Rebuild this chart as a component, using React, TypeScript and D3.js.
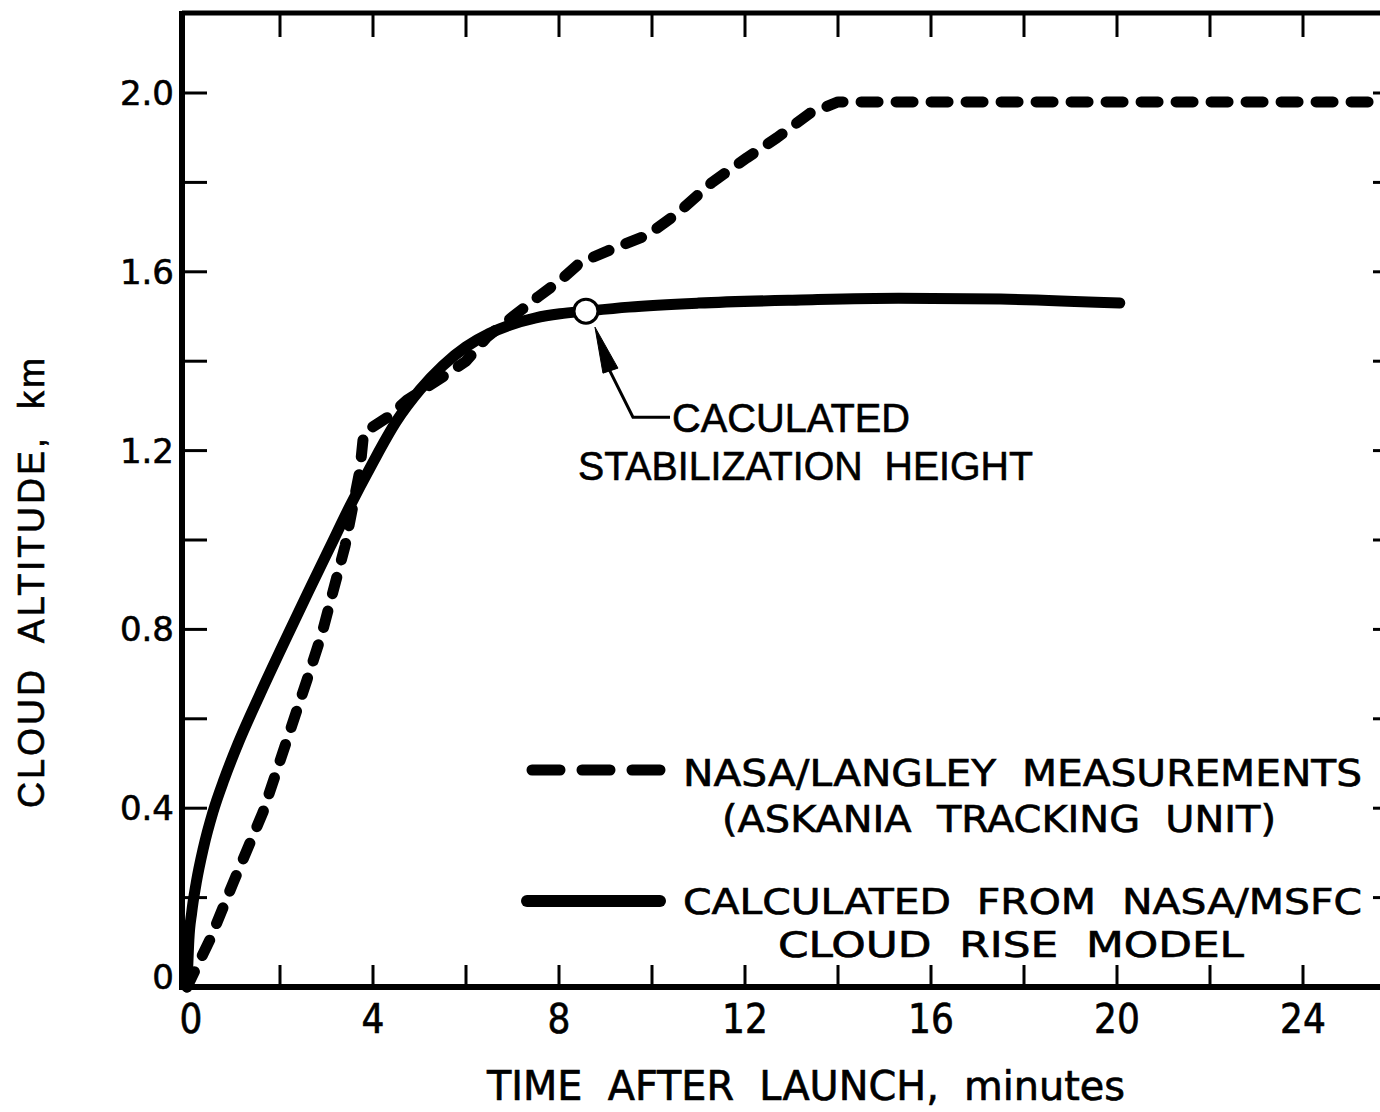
import React from "react";
import * as d3 from "d3";

// ---- data ----
const solidTime = [0, 0.04, 0.1, 0.2, 0.35, 0.56, 0.8, 1.1, 1.57, 2.2, 2.6, 3.075, 3.5, 3.98, 4.5, 5.01, 5.5, 6.0, 6.5, 6.95, 7.5, 8.02, 8.58, 9.5, 11.0, 13.2, 15.3, 17.5, 20.06];
const solidAlt = [0, 0.105, 0.166, 0.234, 0.31, 0.392, 0.465, 0.545, 0.655, 0.795, 0.882, 0.984, 1.075, 1.17, 1.265, 1.336, 1.39, 1.432, 1.462, 1.481, 1.497, 1.506, 1.512, 1.521, 1.53, 1.537, 1.541, 1.539, 1.53];

const dashTime = [0, 0.49, 1.0, 1.63, 2.58, 2.9, 3.4, 3.72, 3.8, 4.32, 4.73, 5.5, 6.0, 6.45, 7.0, 7.55, 8.02, 8.45, 9.1, 9.9, 10.54, 11.29, 12.04, 12.69, 13.4, 14.0, 26];
const dashAlt = [0, 0.105, 0.235, 0.39, 0.687, 0.79, 0.987, 1.157, 1.24, 1.275, 1.313, 1.365, 1.4, 1.454, 1.499, 1.544, 1.58, 1.62, 1.649, 1.682, 1.73, 1.8, 1.855, 1.9, 1.955, 1.98, 1.98];

const stabTime = 8.58;
const stabAlt = 1.512;

const xTickLabels = [0, 4, 8, 12, 16, 20, 24];
const xMinorTicks = [2, 4, 6, 8, 10, 12, 14, 16, 18, 20, 22, 24, 26];
const yTickLabels = ["0", "0.4", "0.8", "1.2", "1.6", "2.0"];
const yTicks = [0.2, 0.4, 0.6, 0.8, 1.0, 1.2, 1.4, 1.6, 1.8, 2.0];

const W = 1380;
const H = 1112;

export default function App() {
  const x = d3.scaleLinear().domain([0, 24]).range([187, 1303]);
  const y = d3.scaleLinear().domain([0, 2]).range([987, 93]);

  const solidPts: [number, number][] = solidTime.map((t, i) => [t, solidAlt[i]]);
  const dashPts: [number, number][] = dashTime.map((t, i) => [t, dashAlt[i]]);

  const smooth = d3
    .line<[number, number]>()
    .x((d) => x(d[0]))
    .y((d) => y(d[1]))
    .curve(d3.curveMonotoneX);
  const lin = d3
    .line<[number, number]>()
    .x((d) => x(d[0]))
    .y((d) => y(d[1]))
    .curve(d3.curveLinear);

  const left = 182;
  const top = 13;
  const bottom = 987;
  const right = 1398;

  const cond = "'DejaVu Sans Condensed', 'DejaVu Sans', sans-serif";
  const sans = "'Liberation Sans', Arial, sans-serif";
  const ink = { stroke: "#000", strokeWidth: 0.6 };

  const cx = x(stabTime);
  const cy = y(stabAlt);

  return (
    <svg
      width={W}
      height={H}
      viewBox={`0 0 ${W} ${H}`}
      style={{ position: "absolute", left: 0, top: 0, display: "block", background: "#fff" }}
    >
      <rect x={0} y={0} width={W} height={H} fill="#fff" />

      {/* frame */}
      <line x1={left} y1={top} x2={right} y2={top} stroke="#000" strokeWidth={5} />
      <line x1={left} y1={top - 2} x2={left} y2={bottom + 3} stroke="#000" strokeWidth={6} />
      <line x1={left - 3} y1={bottom} x2={right} y2={bottom} stroke="#000" strokeWidth={6} />
      <line x1={right} y1={top} x2={right} y2={bottom} stroke="#000" strokeWidth={6} />

      {/* x ticks */}
      {xMinorTicks.map((t) => (
        <g key={"xt" + t}>
          <line x1={x(t)} y1={bottom} x2={x(t)} y2={bottom - 22} stroke="#000" strokeWidth={3} />
          <line x1={x(t)} y1={top} x2={x(t)} y2={top + 24} stroke="#000" strokeWidth={3} />
        </g>
      ))}
      {/* y ticks */}
      {yTicks.map((v) => (
        <g key={"yt" + v}>
          <line x1={left} y1={y(v)} x2={left + 25} y2={y(v)} stroke="#000" strokeWidth={3} />
          <line x1={right} y1={y(v)} x2={right - 25} y2={y(v)} stroke="#000" strokeWidth={3} />
        </g>
      ))}

      {/* x tick labels */}
      {xTickLabels.map((t) => (
        <text
          key={"xl" + t}
          x={x(t) + (t === 0 ? 4 : 0)}
          y={1033}
          textAnchor="middle"
          fontFamily={cond}
          fontSize={40}
          fill="#000"
          {...ink}
        >
          {t}
        </text>
      ))}
      {/* y tick labels */}
      {yTickLabels.map((s) => {
        const v = parseFloat(s);
        const yy = v === 0 ? 977 : y(v);
        return (
          <text
            key={"yl" + s}
            x={174}
            y={yy + 12}
            textAnchor="end"
            fontFamily="'DejaVu Sans', sans-serif"
            fontSize={34}
            fill="#000"
            {...ink}
          >
            {s}
          </text>
        );
      })}

      {/* axis titles */}
      <text
        x={487}
        y={1100}
        fontFamily={cond}
        fontSize={40}
        textLength={638}
        lengthAdjust="spacingAndGlyphs"
        style={{ whiteSpace: "pre" }}
        fill="#000"
        {...ink}
      >
        {"TIME  AFTER  LAUNCH,  minutes"}
      </text>
      <text
        transform="translate(44,808) rotate(-90)"
        x={0}
        y={0}
        fontFamily={sans}
        fontSize={36}
        textLength={450}
        lengthAdjust="spacing"
        style={{ whiteSpace: "pre" }}
        fill="#000"
        {...ink}
      >
        {"CLOUD  ALTITUDE,  km"}
      </text>

      {/* curves */}
      <path
        d={lin(dashPts) || ""}
        fill="none"
        stroke="#000"
        strokeWidth={11}
        strokeDasharray="17 18"
        strokeLinecap="round"
        strokeLinejoin="round"
      />
      <path
        d={smooth(solidPts) || ""}
        fill="none"
        stroke="#000"
        strokeWidth={11}
        strokeLinecap="round"
        strokeLinejoin="round"
      />

      {/* stabilization marker */}
      <circle cx={cx} cy={cy} r={12} fill="#fff" stroke="#000" strokeWidth={3} />
      <path
        d={`M ${cx + 9} ${cy + 16} L ${cx + 17} ${cy + 62} L ${cx + 32} ${cy + 57} Z`}
        fill="#000"
        stroke="#000"
        strokeWidth={1}
        strokeLinejoin="round"
      />
      <polyline
        points={`${cx + 23} ${cy + 58} ${cx + 47} ${cy + 106} ${cx + 84} ${cy + 106}`}
        fill="none"
        stroke="#000"
        strokeWidth={3}
      />
      <text
        x={672}
        y={432}
        fontFamily={sans}
        fontSize={40}
        textLength={238}
        lengthAdjust="spacingAndGlyphs"
        fill="#000"
        {...ink}
      >
        CACULATED
      </text>
      <text
        x={578}
        y={480}
        fontFamily={sans}
        fontSize={40}
        textLength={455}
        lengthAdjust="spacingAndGlyphs"
        style={{ whiteSpace: "pre" }}
        fill="#000"
        {...ink}
      >
        {"STABILIZATION  HEIGHT"}
      </text>

      {/* legend */}
      <line x1={532} y1={770} x2={660} y2={770} stroke="#000" strokeWidth={11} strokeDasharray="28 22" strokeLinecap="round" />
      <line x1={527} y1={901} x2={660} y2={901} stroke="#000" strokeWidth={12} strokeLinecap="round" />
      <text x={683} y={786} fontFamily={cond} fontSize={37} textLength={679} lengthAdjust="spacingAndGlyphs" style={{ whiteSpace: "pre" }} fill="#000" {...ink}>
        {"NASA/LANGLEY  MEASUREMENTS"}
      </text>
      <text x={722} y={832} fontFamily={cond} fontSize={37} textLength={554} lengthAdjust="spacingAndGlyphs" style={{ whiteSpace: "pre" }} fill="#000" {...ink}>
        {"(ASKANIA  TRACKING  UNIT)"}
      </text>
      <text x={683} y={914} fontFamily={cond} fontSize={36} textLength={679} lengthAdjust="spacingAndGlyphs" style={{ whiteSpace: "pre" }} fill="#000" {...ink}>
        {"CALCULATED  FROM  NASA/MSFC"}
      </text>
      <text x={778} y={957} fontFamily={cond} fontSize={36} textLength={466} lengthAdjust="spacingAndGlyphs" style={{ whiteSpace: "pre" }} fill="#000" {...ink}>
        {"CLOUD  RISE  MODEL"}
      </text>
    </svg>
  );
}
